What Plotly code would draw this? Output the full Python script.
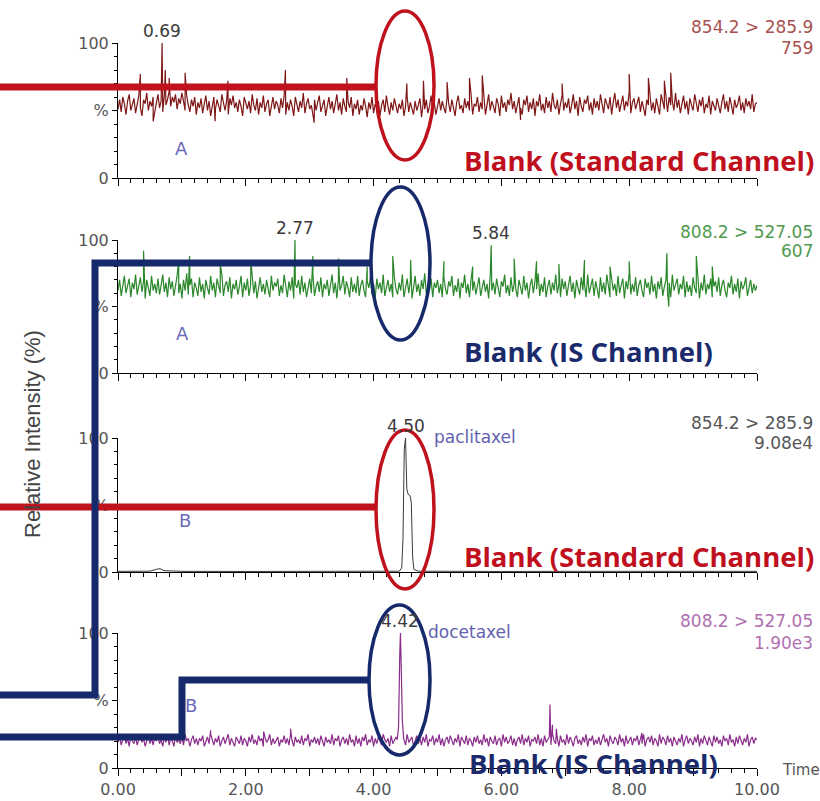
import numpy as np
import plotly.graph_objects as go

W, H = 820, 801

# ---------------------------------------------------------------- data
# Panel A, 854.2 > 285.9 (blank, standard channel) – relative intensity (%),
# evenly sampled scans from 0 to 10 min
std_blank_base = [
    51, 58, 49, 60, 55, 47, 57, 62, 50, 54, 59, 48, 56, 61, 52, 46, 58, 55, 63, 50, 57, 53, 60, 48, 55,
    62, 52, 57, 49, 61, 54, 58, 64, 53, 60, 56, 62, 51, 59, 55, 63, 57, 50, 61, 54, 49, 58, 53, 60, 47,
    56, 52, 59, 48, 55, 61, 50, 57, 46, 54, 60, 51, 58, 53, 49, 62, 55, 50, 57, 47, 59, 54, 61, 52, 56,
    49, 58, 53, 46, 60, 55, 51, 57, 48, 62, 54, 50, 59, 47, 56, 52, 61, 49, 55, 58, 46, 53, 60, 51, 57,
    54, 48, 59, 52, 61, 47, 56, 50, 58, 53, 46, 60, 55, 49, 57, 52, 63, 48, 55, 59, 51, 54, 47, 58, 50,
    56, 61, 49, 53, 58, 46, 55, 60, 51, 57, 48, 54, 62, 50, 56, 47, 59, 53, 49, 57, 52, 60, 46, 55, 51,
    58, 47, 54, 50, 59, 53, 45, 56, 51, 60, 48, 55, 52, 57, 46, 54, 58, 49, 61, 53, 47, 56, 50, 59, 52,
    48, 55, 51, 58, 46, 53, 60, 49, 56, 52, 47, 57, 50, 54, 59, 45, 55, 51, 58, 48, 53, 61, 50, 56, 47,
    54, 59, 50, 57, 52, 48, 60, 55, 49, 58, 53, 46, 56, 61, 51, 54, 48, 59, 52, 57, 50, 62, 47, 55, 53,
    60, 49, 56, 51, 58, 47, 54, 62, 50, 57, 53, 48, 59, 55, 46, 61, 52, 56, 49, 58, 54, 63, 51, 57, 48,
    55, 60, 52, 47, 58, 54, 61, 49, 56, 51, 59, 46, 57, 53, 62, 50, 55, 48, 60, 52, 57, 49, 63, 54, 51,
    58, 47, 55, 61, 50, 56, 52, 59, 48, 54, 62, 51, 57, 46, 60, 53, 49, 58, 55, 61, 50, 56, 47, 59, 52,
    57, 50, 62, 53, 48, 59, 55, 51, 60, 47, 56, 63, 52, 58, 49, 54, 61, 50, 57, 53, 64, 48, 56, 59, 51,
    55, 60, 49, 57, 52, 46, 58, 54, 61, 50, 56, 48, 59, 53, 47, 62, 55, 51, 58, 49, 60, 54, 57, 50, 63,
    52, 58, 48, 55, 61, 51, 57, 47, 59, 54, 50, 62, 56, 49, 58, 53, 60, 48, 55, 52, 61, 47, 57, 54, 50,
    59, 53, 48, 56, 62, 51, 57, 49, 60, 54, 47, 58, 52, 55, 61, 50, 56, 48, 59, 53, 57, 51, 62, 49, 55,
    56,
]
std_blank_spike_t = [0.35, 0.55, 0.69, 0.74, 0.80, 1.05, 1.52, 1.72, 2.62, 3.07, 3.58, 4.52, 4.78,
                     5.15, 5.50, 5.70, 6.30, 6.95, 8.00, 8.30, 8.55, 8.65]
std_blank_spike_y = [77, 42, 100, 80, 74, 78, 42, 72, 80, 41, 74, 70, 72,
                     71, 74, 76, 43, 70, 77, 74, 72, 78]

# Panel A, 808.2 > 527.05 (blank, internal-standard channel)
is_blank_base = [
    62, 70, 58, 67, 73, 60, 65, 71, 57, 68, 63, 74, 59, 66, 72, 61, 69, 56, 70, 64, 58, 73, 62, 67, 60,
    71, 59, 66, 74, 61, 68, 57, 72, 63, 69, 58, 65, 73, 60, 67, 56, 70, 62, 75, 59, 66, 71, 57, 68, 64,
    58, 72, 61, 67, 56, 70, 64, 59, 73, 62, 68, 57, 71, 65, 60, 74, 58, 66, 69, 61, 72, 56, 67, 63, 70,
    59, 65, 73, 57, 68, 62, 71, 58, 66, 74, 60, 69, 56, 64, 72, 61, 67, 59, 70, 63, 57, 73, 62, 68, 65,
    71, 58, 66, 60, 74, 63, 57, 69, 62, 72, 56, 67, 64, 70, 59, 73, 61, 68, 57, 66, 71, 60, 74, 58, 65,
    69, 61, 72, 57, 67, 63, 70, 58, 65, 74, 60, 68, 56, 71, 62, 66, 73, 59, 69, 64, 57, 72, 61, 67, 60,
    73, 58, 66, 70, 62, 57, 69, 64, 72, 59, 67, 56, 71, 63, 68, 60, 74, 58, 65, 70, 61, 67, 57, 72, 63,
    59, 68, 62, 74, 57, 66, 71, 60, 69, 56, 64, 73, 61, 67, 58, 70, 63, 75, 59, 66, 62, 71, 57, 68, 64,
    70, 60, 67, 57, 72, 63, 59, 69, 65, 73, 58, 66, 61, 71, 56, 68, 64, 74, 60, 67, 57, 70, 62, 69, 59,
    66, 72, 58, 64, 70, 61, 67, 56, 73, 62, 68, 59, 71, 63, 57, 69, 65, 74, 60, 66, 58, 72, 61, 67, 63,
    57, 70, 64, 59, 73, 62, 68, 56, 66, 71, 60, 69, 63, 75, 58, 67, 61, 72, 57, 65, 70, 59, 68, 62, 74,
    60, 67, 57, 71, 63, 69, 58, 66, 73, 61, 68, 56, 70, 64, 59, 72, 62, 67, 57, 74, 60, 65, 71, 58, 69,
    63, 56, 72, 61, 68, 59, 74, 64, 57, 70, 62, 67, 58, 73, 60, 66, 71, 56, 69, 63, 75, 59, 67, 61, 72,
    58, 66, 70, 62, 57, 71, 64, 68, 59, 73, 61, 67, 56, 69, 63, 72, 58, 65, 70, 60, 68, 57, 74, 62, 66,
    71, 59, 67, 63, 73, 57, 69, 61, 66, 58, 72, 64, 60, 70, 56, 68, 62, 74, 59, 67, 63, 71, 57, 65, 69,
    61, 72, 58, 66, 70, 62, 57, 68, 64, 73, 59, 67, 61, 71, 56, 69, 63, 66, 72, 58, 65, 70, 60, 67, 62,
    66,
]
is_blank_spike_t = [0.40, 0.95, 1.12, 1.60, 2.08, 2.77, 3.05, 3.45, 3.90, 4.30, 4.58, 5.10, 5.55,
                    5.84, 6.20, 6.55, 6.90, 7.30, 7.70, 8.00, 8.59, 8.62, 9.05, 9.30]
is_blank_spike_y = [92, 85, 88, 82, 84, 100, 88, 86, 80, 88, 85, 84, 80,
                    96, 86, 84, 82, 85, 80, 84, 90, 50, 88, 80]

# Panel B, 854.2 > 285.9 (paclitaxel)
ptx_t = [0.00, 0.50, 0.60, 0.66, 0.72, 1.00, 2.00, 3.00, 4.00, 4.40, 4.44, 4.46, 4.48, 4.50,
         4.52, 4.54, 4.57, 4.59, 4.61, 4.63, 4.70, 5.00, 6.00, 7.00, 8.00, 9.00, 10.00]
ptx_y = [0.5, 0.6, 2.0, 2.5, 1.0, 0.5, 0.4, 0.5, 0.5, 0.6, 3, 25, 92, 100,
         62, 58, 57, 52, 12, 2, 0.6, 0.5, 0.4, 0.5, 0.5, 0.4, 0.5]

# Panel B, 808.2 > 527.05 (docetaxel)
dtx_base = [
    19, 23, 17, 21, 25, 18, 22, 16, 24, 20, 18, 23, 17, 21, 25, 19, 22, 16, 20, 24, 18, 22, 17, 23, 20,
    24, 18, 21, 16, 23, 19, 25, 17, 22, 20, 16, 24, 19, 21, 18, 23, 17, 25, 20, 22, 16, 21, 24, 18, 22,
    17, 22, 20, 24, 16, 19, 23, 18, 25, 21, 17, 22, 19, 24, 16, 20, 23, 18, 21, 25, 17, 22, 19, 16, 23,
    21, 18, 24, 17, 22, 20, 16, 23, 19, 25, 18, 21, 17, 24, 20, 22, 16, 23, 19, 21, 25, 17, 22, 18, 20,
    23, 16, 21, 19, 24, 18, 22, 17, 25, 20, 16, 23, 19, 21, 18, 24, 17, 22, 20, 25, 16, 21, 19, 23, 18,
    22, 17, 24, 20, 16, 23, 19, 21, 18, 25, 17, 22, 20, 24, 16, 21, 23, 18, 22, 17, 25, 19, 21, 16, 24,
    18, 22, 16, 23, 20, 25, 17, 21, 19, 24, 16, 22, 18, 23, 20, 17, 25, 21, 19, 22, 16, 24, 18, 21, 23,
    20, 16, 24, 18, 22, 17, 25, 19, 21, 23, 16, 20, 24, 18, 22, 17, 23, 19, 25, 16, 21, 20, 24, 17, 22,
    19, 25, 17, 22, 16, 21, 23, 18, 24, 20, 17, 22, 19, 25, 16, 23, 21, 18, 24, 17, 22, 20, 16, 23, 19,
    24, 18, 21, 17, 25, 19, 22, 16, 23, 20, 18, 24, 17, 21, 22, 16, 25, 19, 23, 18, 20, 24, 17, 22, 16,
    21, 23, 18, 25, 17, 22, 19, 24, 16, 21, 20, 23, 18, 25, 17, 22, 16, 24, 19, 21, 23, 17, 25, 20, 18,
    22, 16, 24, 19, 21, 17, 25, 18, 23, 20, 16, 22, 24, 18, 21, 17, 23, 19, 25, 16, 22, 20, 24, 17, 21,
    18, 23, 17, 21, 25, 19, 22, 16, 24, 20, 18, 23, 21, 17, 25, 19, 22, 16, 24, 18, 21, 23, 17, 22, 20,
    24, 17, 22, 18, 25, 16, 21, 23, 19, 24, 17, 22, 20, 16, 25, 18, 23, 21, 17, 24, 19, 22, 16, 23, 20,
    17, 22, 19, 25, 16, 21, 24, 18, 22, 20, 17, 23, 19, 25, 16, 22, 18, 24, 21, 17, 23, 20, 16, 24, 19,
    23, 18, 21, 16, 24, 20, 22, 17, 25, 19, 21, 16, 23, 18, 24, 20, 17, 22, 19, 25, 16, 21, 23, 18, 22,
    21,
]
dtx_peak_t = [4.37, 4.39, 4.41, 4.42, 4.43, 4.45, 4.47]
dtx_peak_y = [21, 30, 85, 100, 80, 35, 22]
dtx_spike_t = [1.45, 2.28, 2.70, 6.76, 6.80, 6.86, 8.20]
dtx_spike_y = [28, 27, 29, 47, 32, 29, 26]

# peak apex labels: (panel, time, height, name)
peak_labels = [
    (1, 0.69, 100, ""),
    (2, 2.77, 100, ""),
    (2, 5.84, 96, ""),
    (3, 4.50, 100, "paclitaxel"),
    (4, 4.42, 100, "docetaxel"),
]
channel_text = ["854.2 > 285.9", "808.2 > 527.05", "854.2 > 285.9", "808.2 > 527.05"]
channel_scale = ["759", "607", "9.08e4", "1.90e3"]
sample_tag = ["A", "A", "B", "B"]
blank_text = ["Blank (Standard Channel)", "Blank (IS Channel)",
              "Blank (Standard Channel)", "Blank (IS Channel)"]
x_tick_vals = list(range(11))
x_tick_text = ["0.00", "", "2.00", "", "4.00", "", "6.00", "", "8.00", "", "10.00"]
RUN_END = 10.0


def scans(values):
    """Evenly spaced scan times for a list of readings over the run."""
    return np.linspace(0, RUN_END, len(values))


def merge(base_y, extra_t, extra_y, cut=None):
    t = scans(base_y)
    y = np.asarray(base_y, float)
    if cut is not None:
        keep = (t < cut[0]) | (t > cut[1])
        t, y = t[keep], y[keep]
    at = np.concatenate([t, np.asarray(extra_t, float)])
    ay = np.concatenate([y, np.asarray(extra_y, float)])
    order = np.argsort(at, kind="stable")
    return at[order], ay[order]


t1, y1 = merge(std_blank_base, std_blank_spike_t, std_blank_spike_y)
t2, y2 = merge(is_blank_base, is_blank_spike_t, is_blank_spike_y)
t3, y3 = np.array(ptx_t), np.array(ptx_y)
t4, y4 = merge(dtx_base, dtx_peak_t + dtx_spike_t, dtx_peak_y + dtx_spike_y,
               cut=(min(dtx_peak_t) - 0.01, max(dtx_peak_t) + 0.01))

trace_colors = ["#7e1616", "#2a872a", "#3a3a3a", "#8b2d8b"]
trace_widths = [1.2, 1.2, 1.0, 1.2]
channel_colors = ["#a85050", "#4f9a4f", "#555555", "#b070b0"]
blank_colors = ["#c0101e", "#1b2a6b", "#c0101e", "#1b2a6b"]

# ---------------------------------------------------------------- layout helpers
def px(x):
    return x / W


def py(y):
    return 1 - y / H


# panel (bottom, top) pixel rows
panels = [(178, 43), (373, 240), (572, 438), (768, 633)]
X0, X1 = 118, 757

fig = go.Figure()
for i, (tt, yy) in enumerate([(t1, y1), (t2, y2), (t3, y3), (t4, y4)], 1):
    fig.add_trace(go.Scatter(x=tt, y=yy, mode="lines",
                             line=dict(color=trace_colors[i - 1], width=trace_widths[i - 1]),
                             xaxis=f"x{i}", yaxis=f"y{i}", hoverinfo="skip"))

tick_font = dict(family="DejaVu Sans", size=16, color="#555555")
layout = dict(template="none", width=W, height=H,
              margin=dict(l=0, r=0, t=0, b=0, pad=0, autoexpand=False),
              paper_bgcolor="white", plot_bgcolor="white", showlegend=False)
for i, (yb, yt) in enumerate(panels, 1):
    layout[f"xaxis{i}"] = dict(
        domain=[px(X0), px(X1)], range=[0, 10], anchor=f"y{i}", automargin=False,
        showline=True, linecolor="black", linewidth=1, mirror=False,
        ticks="outside", ticklen=7, tickcolor="black", tickwidth=1,
        tickmode="array", tickvals=x_tick_vals, ticktext=x_tick_text,
        minor=dict(tickmode="linear", tick0=0, dtick=0.2, ticks="outside",
                   ticklen=4, tickcolor="black", showgrid=False),
        showticklabels=(i == 4), tickfont=tick_font,
        showgrid=False, zeroline=False, fixedrange=True)
    layout[f"yaxis{i}"] = dict(
        domain=[py(yb), py(yt)], range=[0, 100], anchor=f"x{i}", automargin=False,
        showline=True, linecolor="black", linewidth=1,
        ticks="outside", ticklen=5, tickcolor="black",
        tickmode="array", tickvals=[0, 50, 100], ticktext=["0", "%", "100"],
        minor=dict(tickmode="linear", tick0=0, dtick=10, ticks="outside",
                   ticklen=3, tickcolor="black", showgrid=False),
        tickfont=tick_font, showgrid=False, zeroline=False, fixedrange=True)
fig.update_layout(**layout)

ann = []
small = dict(family="DejaVu Sans", size=17)
# channel / scale text at upper right of each panel
chan_rows = [(27, 48), (232, 251), (423, 443), (621, 643)]
for i in range(4):
    for txt, yrow in zip([channel_text[i], channel_scale[i]], chan_rows[i]):
        ann.append(dict(x=px(815), y=py(yrow), xref="paper", yref="paper", text=txt,
                        showarrow=False, xanchor="right", yanchor="middle",
                        font=dict(color=channel_colors[i], **small)))

# sample tag
tag_pos = [(181, 148), (182, 333), (185, 520), (191, 705)]
for i, (x, y) in enumerate(tag_pos):
    ann.append(dict(x=px(x), y=py(y), xref="paper", yref="paper", text=sample_tag[i],
                    showarrow=False, xanchor="center", yanchor="middle",
                    font=dict(family="DejaVu Sans", size=18, color="#6a6ab8")))

# peak apex labels
for panel, t, h, name in peak_labels:
    ann.append(dict(x=t, y=h, xref=f"x{panel}", yref=f"y{panel}", text=f"{t:.2f}",
                    showarrow=False, xanchor="center", yanchor="bottom", yshift=0,
                    font=dict(color="#3a3a3a", **small)))
    if name:
        ann.append(dict(x=t, y=h, xref=f"x{panel}", yref=f"y{panel}", text=name,
                        showarrow=False, xanchor="left", yanchor="middle",
                        xshift=26, yshift=1,
                        font=dict(color="#6262b0", **small)))

# channel captions
blank_pos = [(462, 160), (462, 352), (462, 556), (467, 763)]
for i, (x, y) in enumerate(blank_pos):
    ann.append(dict(x=px(x), y=py(y), xref="paper", yref="paper", text=blank_text[i],
                    showarrow=False, xanchor="left", yanchor="middle",
                    font=dict(family="Open Sans", size=27.5, color=blank_colors[i], weight="bold")))

ann.append(dict(x=px(780), y=py(770), xref="paper", yref="paper", text="Time",
                showarrow=False, xanchor="left", yanchor="middle",
                font=dict(family="DejaVu Sans", size=15, color="#555555")))
ann.append(dict(x=px(32), y=py(434), xref="paper", yref="paper", text="Relative Intensity (%)",
                showarrow=False, textangle=-90, xanchor="center", yanchor="middle",
                font=dict(family="Liberation Sans", size=22, color="#444444")))
fig.update_layout(annotations=ann)

# ---------------------------------------------------------------- callouts
RED, NAVY = "#c0121c", "#16296b"


def path(points):
    return "M " + " L ".join(f"{px(x):.5f},{py(y):.5f}" for x, y in points)


shapes = []
for pts, col in [
    ([(0, 87), (376, 87)], RED),
    ([(0, 507), (376, 507)], RED),
    ([(0, 695), (95, 695), (95, 263), (372, 263)], NAVY),
    ([(0, 737), (182, 737), (182, 680), (370, 680)], NAVY),
]:
    shapes.append(dict(type="path", path=path(pts), xref="paper", yref="paper",
                       line=dict(color=col, width=7), layer="above"))

for (x0, y0, x1, y1), col in [
    ((376, 11, 434, 160), RED),
    ((371, 187, 430, 340), NAVY),
    ((376, 430, 434, 589), RED),
    ((369, 605, 430, 755), NAVY),
]:
    shapes.append(dict(type="circle", xref="paper", yref="paper",
                       x0=px(x0), x1=px(x1), y0=py(y1), y1=py(y0),
                       line=dict(color=col, width=3.5), layer="above"))
fig.update_layout(shapes=shapes)

fig.write_html("out.html")
